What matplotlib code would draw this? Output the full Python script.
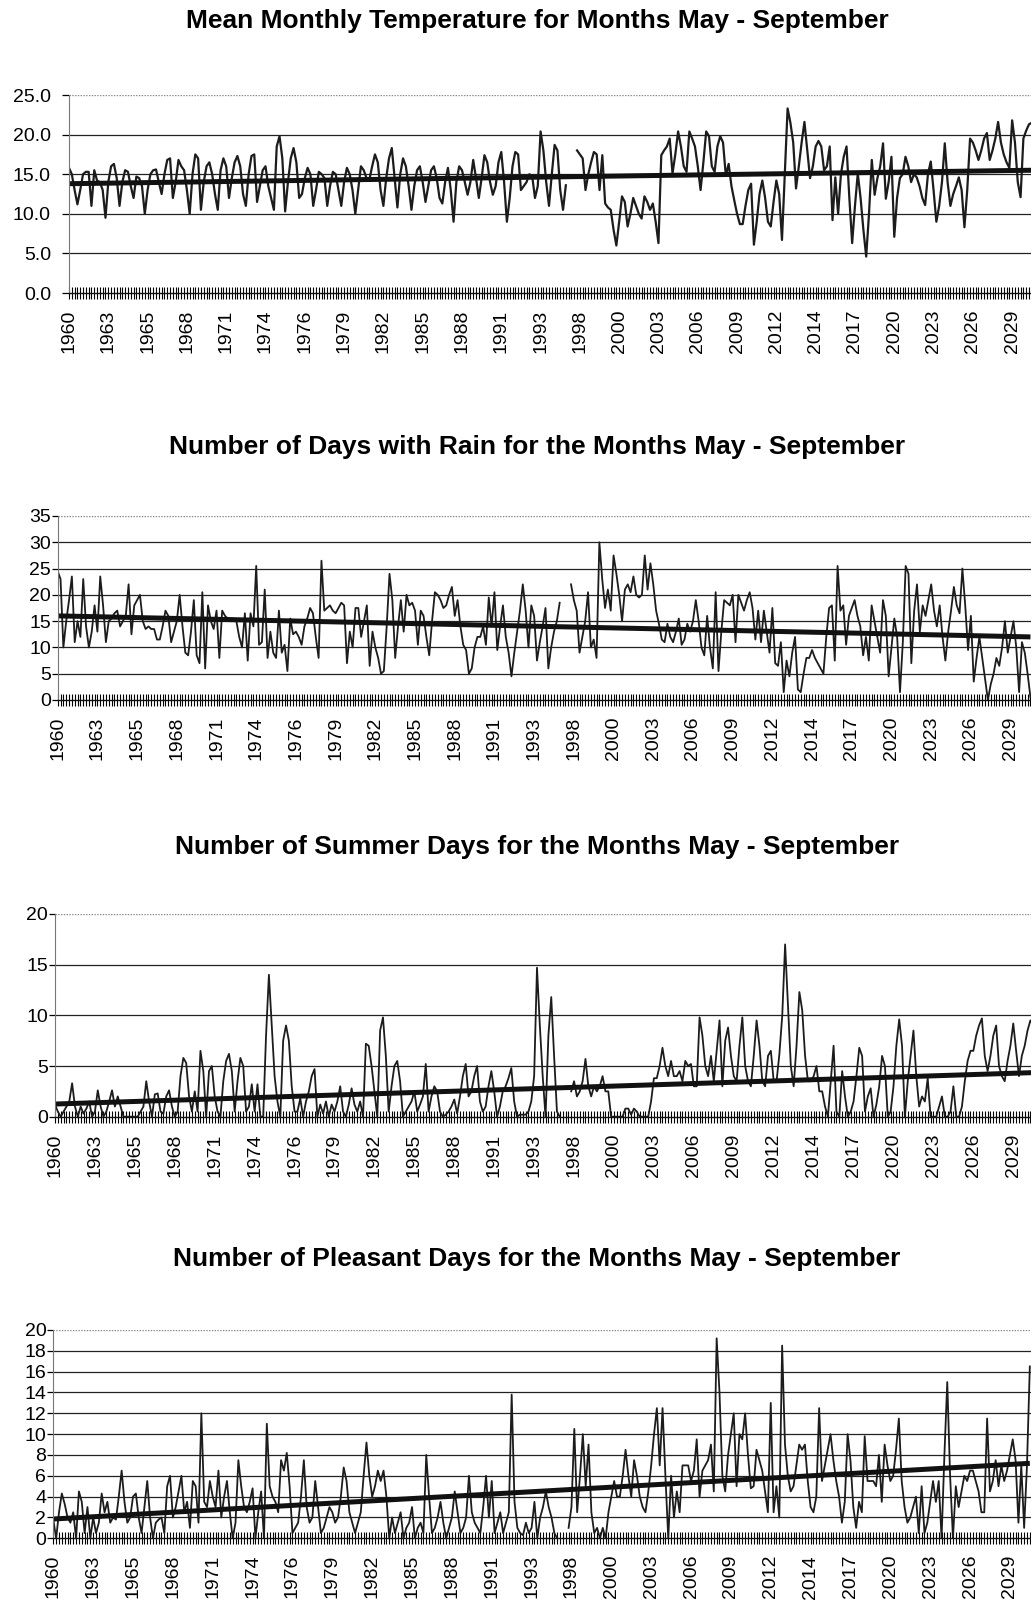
import matplotlib
matplotlib.use("Agg")
import matplotlib.pyplot as plt
import numpy as np

nan = float("nan")

YEAR_LABELS = ["1960", "1963", "1965", "1968", "1971", "1974", "1976", "1979",
               "1982", "1985", "1988", "1991", "1993", "1998", "2000", "2003",
               "2006", "2009", "2012", "2014", "2017", "2020", "2023", "2026",
               "2029"]
LABEL_STEP = 14

TITLES = [
    "Mean Monthly Temperature for Months May - September",
    "Number of Days with Rain for the Months May - September",
    "Number of Summer Days for the Months May - September",
    "Number of Pleasant Days for the Months May - September",
]

# linear trend: value at the first and at the last point
TEMP_TREND = (13.8, 15.5)
RAIN_TREND = (16.0, 12.0)
SUMMER_TREND = (1.25, 4.35)
PLEASANT_TREND = (1.85, 7.2)

# monthly values, May - September of each year (gap = missing years)
TEMP = [
    15.8, 15.0, 13.0, 11.2, 13.0, 15.0, 15.3, 15.3, 11.0, 15.5,
    14.2, 14.0, 13.0, 9.5, 14.0, 16.0, 16.3, 14.5, 11.0, 14.0,
    15.5, 15.3, 13.5, 12.0, 14.7, 14.5, 13.5, 10.0, 13.0, 15.0,
    15.5, 15.6, 14.0, 12.5, 15.0, 16.8, 17.0, 12.0, 14.0, 16.8,
    16.0, 15.5, 13.0, 10.0, 15.0, 17.5, 17.0, 10.5, 14.0, 16.0,
    16.5, 15.0, 12.5, 10.5, 15.5, 17.0, 16.0, 12.0, 14.5, 16.5,
    17.3, 16.0, 12.5, 11.0, 15.0, 17.3, 17.5, 11.5, 13.5, 15.5,
    16.0, 13.5, 12.0, 10.5, 18.5, 19.8, 17.0, 10.3, 14.0, 17.0,
    18.3, 16.5, 12.0, 12.5, 14.5, 15.8, 15.0, 11.0, 13.0, 15.3,
    15.0, 14.5, 11.0, 13.5, 15.3, 15.0, 13.0, 11.0, 14.0, 15.8,
    15.0, 13.0, 10.0, 13.0, 16.0, 15.5, 14.5, 14.3, 16.0, 17.5,
    16.5, 13.0, 11.0, 14.5, 17.0, 18.3, 14.5, 10.8, 15.0, 17.0,
    16.0, 13.5, 10.5, 13.5, 15.5, 16.0, 14.0, 11.5, 13.5, 15.5,
    16.0, 14.5, 12.0, 11.3, 14.0, 15.8, 13.0, 9.0, 14.0, 16.0,
    15.5, 14.0, 12.4, 14.0, 16.8, 14.5, 12.0, 14.5, 17.4, 16.5,
    14.0, 12.4, 13.5, 16.5, 17.8, 14.0, 9.0, 12.0, 16.0, 17.8,
    17.5, 13.0, 13.5, 14.0, 15.0, 14.8, 12.0, 13.5, 20.4, 18.0,
    14.0, 11.0, 15.0, 18.7, 18.0, 13.0, 10.5, 13.6, nan, nan,
    nan, 18.0, 17.5, 17.0, 13.0, 15.0, 16.5, 17.8, 17.5, 13.0,
    17.4, 11.3, 10.8, 10.5, 8.0, 6.0, 9.0, 12.2, 11.5, 8.4,
    10.0, 12.0, 11.0, 10.0, 9.4, 12.2, 11.5, 10.5, 11.3, 9.0,
    6.3, 17.4, 18.0, 18.5, 19.5, 15.1, 17.5, 20.4, 18.5, 16.0,
    15.3, 20.4, 19.5, 18.5, 16.0, 13.0, 16.5, 20.4, 19.8, 16.0,
    15.3, 18.5, 19.8, 19.0, 14.8, 16.3, 13.5, 11.7, 10.0, 8.7,
    8.7, 11.0, 13.0, 13.8, 6.1, 9.0, 12.5, 14.2, 12.0, 9.0,
    8.4, 11.5, 14.2, 12.5, 6.7, 15.0, 23.3, 21.5, 19.0, 13.2,
    16.0, 19.0, 21.6, 18.0, 14.5, 16.0, 18.5, 19.2, 18.5, 15.5,
    16.0, 18.5, 9.2, 14.6, 10.0, 15.0, 17.2, 18.5, 12.0, 6.3,
    11.0, 15.1, 12.0, 8.0, 4.6, 10.0, 16.8, 12.4, 14.5, 16.0,
    18.9, 11.9, 14.0, 17.2, 7.1, 12.0, 14.5, 15.0, 17.2, 16.0,
    14.0, 15.0, 14.6, 13.5, 12.0, 11.1, 15.0, 16.6, 13.0, 9.0,
    11.0, 14.0, 18.9, 14.0, 11.0, 12.5, 13.5, 14.6, 13.0, 8.3,
    13.0, 19.5, 19.0, 18.0, 16.8, 18.0, 19.5, 20.2, 16.8, 18.0,
    19.5, 21.6, 19.0, 17.5, 16.5, 15.8, 21.8, 19.0, 14.0, 12.1,
    19.5, 20.5, 21.3, 21.5,
]

RAIN = [
    24.5, 23, 10, 15, 19, 23.5, 11, 15, 12, 23,
    14, 10, 13, 18, 13, 23.5, 18, 11, 15, 15.5,
    16.5, 17, 14, 15, 16, 22, 12.5, 18, 19, 20,
    15, 13.5, 14, 13.5, 13.5, 11.5, 11.5, 14, 17, 16,
    11, 13, 15, 20, 14, 9, 8.5, 13, 19, 8.5,
    7, 20.5, 6, 18, 15, 13.5, 17, 8, 17, 16,
    15.5, 15.5, 15.5, 15, 12, 10, 16.5, 7.5, 16.5, 14,
    25.5, 10.5, 11, 21, 8, 13, 9, 8, 17, 9,
    10.5, 5.5, 15.5, 12.5, 13, 12, 10.5, 14, 15.5, 17.5,
    16.5, 12, 8, 26.5, 17, 17.5, 18, 17, 16.5, 17.5,
    18.5, 18, 7, 13, 10, 17.5, 17.5, 12, 15, 18,
    6.5, 13, 10, 8, 5, 5.5, 14, 24, 19, 8,
    14, 19, 13, 20, 18, 18.5, 17, 10.5, 17, 16,
    12, 8.5, 15, 20.5, 20, 19, 17.5, 18, 20, 21.5,
    16, 19, 14, 10.5, 9.5, 5, 6, 10, 12, 12,
    14, 10.5, 19.5, 14, 20.5, 9.5, 14, 18, 12, 9,
    4.5, 9, 13, 17, 22, 17, 10, 18, 16, 7.5,
    11, 14, 17.5, 6, 10, 13, 15, 18.5, nan, nan,
    nan, 22, 19, 17, 9, 12, 15, 20.5, 10, 11.5,
    8, 30, 23, 17.5, 21, 17, 27.5, 24, 20, 15,
    21, 22, 20.5, 23.5, 20, 19.5, 20, 27.5, 21, 26,
    22, 17, 14.5, 11.5, 11, 14.5, 12, 11, 13, 15.5,
    10.5, 11.5, 14.5, 13, 15, 19, 15, 10, 8.5, 16,
    10, 6, 20.5, 5.5, 13, 19, 18.5, 18, 20, 11,
    20, 18.5, 17, 19, 20.5, 17.5, 11.5, 17, 11, 17,
    13, 9, 17.5, 7, 6.5, 11, 1.5, 7.5, 4.5, 9,
    12, 2, 1.5, 5, 8, 8, 9.5, 8, 7, 6,
    5, 12, 17.5, 18, 7.5, 25.5, 17, 18, 10.5, 16,
    17.5, 19, 16, 14, 8.5, 12, 7.5, 18, 15, 12,
    9, 19, 16, 4.5, 10, 15.5, 12, 1.5, 11, 25.5,
    24, 7, 17, 22, 13, 18, 16, 19, 22, 17,
    14, 18, 12, 7.5, 13, 17, 21.5, 18, 16.5, 25,
    18, 9.5, 16, 3.5, 8, 12, 8, 4, 0, 3,
    5, 8, 6.5, 10, 15, 9, 12, 15, 10, 1.5,
    11, 9, 5, 0.5,
]

SUMMER = [
    1.2, 0.5, 0.0, 0.5, 1.0, 1.5, 3.3, 1.0, 0.0, 1.0,
    0.3, 0.8, 1.5, 0.0, 0.5, 2.6, 1.0, 0.0, 0.5, 1.5,
    2.6, 1.0, 2.0, 1.0, 0.0, 0.0, 0.0, 0.0, 0.0, 0.0,
    0.5, 1.0, 3.5, 1.5, 0.0, 2.2, 2.3, 0.5, 0.3, 2.0,
    2.6, 1.0, 0.0, 0.5, 4.0, 5.8, 5.3, 2.0, 0.5, 2.5,
    0.5, 6.5, 4.5, 0.0, 4.5, 5.0, 2.0, 0.5, 0.0, 3.5,
    5.5, 6.2, 4.5, 0.5, 3.5, 5.8, 5.0, 0.5, 1.0, 3.2,
    0.5, 3.2, 0.0, 0.0, 8.0, 14.0, 9.0, 4.0, 1.5, 0.0,
    7.5, 9.0, 7.5, 3.0, 0.5, 0.5, 1.8, 0.0, 1.5, 2.5,
    4.0, 4.7, 0.0, 1.2, 0.3, 1.5, 0.0, 1.2, 0.5, 1.5,
    3.0, 0.5, 0.0, 1.2, 2.8, 1.2, 0.5, 1.5, 0.0, 7.2,
    7.0, 5.0, 2.5, 0.0, 8.5, 9.8, 6.0, 0.5, 3.0, 5.0,
    5.5, 3.5, 0.0, 0.5, 1.0, 1.5, 2.5, 0.5, 1.2, 2.0,
    5.2, 0.5, 2.0, 3.0, 2.5, 0.5, 0.0, 0.2, 0.5, 1.0,
    1.7, 0.3, 2.0, 4.0, 5.2, 2.0, 2.5, 4.0, 5.0, 1.5,
    0.5, 1.0, 3.0, 4.5, 2.5, 0.0, 1.0, 2.5, 3.0, 3.8,
    4.8, 1.5, 0.0, 0.2, 0.2, 0.2, 0.5, 1.5, 4.0, 14.7,
    9.0, 4.0, 0.0, 8.0, 11.8, 6.0, 0.5, 0.0, nan, nan,
    nan, 2.5, 3.5, 2.0, 2.5, 3.5, 5.7, 3.0, 2.0, 3.0,
    2.5, 3.0, 4.0, 2.5, 2.5, 0.0, 0.0, 0.0, 0.0, 0.0,
    0.8, 0.8, 0.2, 0.8, 0.5, 0.0, 0.0, 0.0, 0.0, 1.5,
    3.8, 3.8, 5.0, 6.8, 5.0, 4.0, 5.5, 4.0, 4.0, 4.5,
    3.5, 5.5, 5.0, 5.2, 3.0, 3.0, 9.8, 8.0, 5.0, 4.0,
    6.0, 3.5, 6.5, 9.5, 3.0, 7.5, 8.8, 6.0, 4.0, 3.5,
    7.0, 9.8, 5.0, 3.5, 3.0, 6.0, 9.5, 7.0, 3.5, 3.0,
    6.0, 6.5, 3.5, 3.5, 6.2, 10.0, 17.0, 11.0, 5.0, 3.0,
    7.0, 12.3, 10.5, 6.0, 3.5, 3.5, 4.0, 5.0, 2.5, 2.5,
    1.0, 0.0, 3.5, 7.0, 0.5, 0.0, 4.5, 2.0, 0.0, 0.5,
    1.5, 4.0, 6.8, 6.0, 0.5, 2.0, 2.8, 0.0, 1.2, 3.0,
    6.0, 5.0, 0.0, 0.5, 3.0, 7.0, 9.6, 7.0, 0.0, 3.5,
    6.0, 8.5, 4.0, 1.0, 2.0, 1.5, 3.8, 0.0, 0.0, 0.0,
    1.0, 2.0, 0.0, 0.0, 0.5, 3.0, 0.0, 0.0, 1.0, 3.5,
    5.5, 6.5, 6.5, 8.0, 9.0, 9.7, 6.0, 4.5, 6.0, 8.0,
    9.0, 5.0, 4.0, 3.5, 5.5, 7.0, 9.2, 6.5, 4.0, 6.0,
    7.0, 8.5, 9.5, 9.0,
]

PLEASANT = [
    1.8, 0.0, 2.5, 4.3, 3.3, 2.0, 1.5, 2.5, 0.0, 4.5,
    3.5, 0.5, 3.0, 0.0, 2.0, 0.5, 1.5, 4.3, 2.5, 3.5,
    1.5, 2.0, 1.8, 4.0, 6.5, 3.5, 1.5, 2.0, 4.0, 4.3,
    2.0, 0.5, 3.0, 5.5, 2.0, 0.0, 1.5, 1.8, 2.0, 0.5,
    5.0, 6.0, 2.0, 3.0, 4.5, 6.0, 2.5, 3.5, 1.0, 5.5,
    5.0, 1.5, 12.0, 3.5, 3.0, 5.5, 4.0, 3.0, 6.5, 2.0,
    4.0, 5.5, 2.5, 0.0, 1.5, 7.5, 5.0, 3.0, 2.5, 3.5,
    4.8, 0.0, 2.5, 4.5, 0.0, 11.0, 5.0, 4.0, 3.5, 2.5,
    7.5, 6.5, 8.2, 5.0, 0.5, 1.0, 1.5, 4.0, 7.5, 3.0,
    1.5, 2.0, 5.5, 3.0, 0.5, 1.0, 2.0, 3.0, 2.5, 1.5,
    2.0, 4.0, 6.8, 5.5, 2.5, 1.5, 0.5, 1.5, 2.5, 6.0,
    9.2, 6.0, 4.0, 5.0, 6.5, 5.5, 6.5, 4.0, 0.0, 2.0,
    0.5, 1.5, 2.5, 0.0, 1.0, 1.5, 3.0, 0.0, 1.0, 1.5,
    0.5, 8.0, 4.0, 0.5, 1.0, 2.0, 3.5, 1.5, 0.0, 1.0,
    2.0, 4.5, 2.5, 0.5, 1.0, 2.0, 6.0, 2.5, 1.5, 1.0,
    0.5, 3.0, 6.0, 2.0, 5.5, 0.5, 1.5, 2.5, 0.5, 1.5,
    2.5, 13.8, 3.5, 1.0, 0.5, 0.3, 1.5, 0.5, 1.0, 3.5,
    0.0, 2.0, 3.0, 4.5, 3.0, 2.0, 0.5, 0.0, nan, nan,
    nan, 1.0, 3.0, 10.5, 2.5, 6.0, 10.0, 5.0, 9.0, 2.5,
    0.5, 1.0, 0.0, 1.0, 0.0, 2.5, 4.0, 5.5, 4.0, 4.0,
    6.0, 8.5, 6.0, 4.0, 7.5, 6.0, 4.0, 3.0, 2.5, 4.5,
    7.0, 10.0, 12.5, 7.0, 12.5, 6.0, 0.0, 6.0, 2.0, 4.5,
    2.5, 7.0, 7.0, 7.0, 5.5, 6.5, 9.5, 4.0, 6.5, 7.0,
    7.5, 9.0, 4.5, 19.2, 14.0, 6.0, 4.5, 8.0, 10.0, 12.0,
    5.0, 10.0, 9.5, 12.0, 8.0, 4.8, 5.0, 8.5, 7.5, 6.5,
    4.5, 2.5, 13.0, 2.5, 5.0, 2.0, 18.5, 9.0, 6.0, 4.5,
    5.0, 7.0, 9.0, 8.5, 9.0, 5.5, 3.0, 2.5, 4.0, 12.5,
    5.5, 7.0, 8.5, 10.0, 7.5, 5.5, 4.0, 1.5, 3.5, 10.0,
    7.5, 3.0, 1.0, 3.5, 2.5, 9.8, 5.5, 5.5, 5.5, 5.0,
    8.0, 3.5, 9.0, 7.0, 5.5, 6.0, 8.5, 11.5, 5.5, 3.0,
    1.5, 2.0, 3.0, 4.0, 0.5, 5.0, 0.5, 1.5, 3.5, 5.5,
    3.5, 5.5, 0.0, 8.0, 15.0, 6.0, 0.0, 5.0, 3.0, 4.5,
    6.0, 5.5, 6.5, 6.5, 5.5, 4.5, 2.5, 2.5, 11.5, 4.5,
    5.5, 7.5, 5.0, 7.0, 5.5, 6.5, 8.0, 9.5, 7.5, 1.5,
    7.0, 1.0, 7.0, 16.5,
]

W, H = 1031, 1604
N_CATS = 355


def px_rect(left, top, bottom, px_per_cat):
    width = N_CATS * px_per_cat
    return [left / W, 1 - bottom / H, width / W, (bottom - top) / H]


def draw_panel(fig, rect, values, trend, yticks, fmt, title, title_y,
               ypad, ylen, lw):
    ax = fig.add_axes(rect)
    y = np.array(values, dtype=float)
    x = np.arange(len(y))
    ax.plot(x, y, color="#1c1c1c", lw=lw, solid_joinstyle="round")

    # straight trend line through the two read end values
    ax.plot([0, len(y) - 1], list(trend), color="#111111", lw=3.6,
            solid_capstyle="butt")

    ax.set_xlim(0, N_CATS)
    ax.set_ylim(yticks[0], yticks[-1])
    ax.set_yticks(yticks)
    ax.set_yticklabels([fmt.format(v) for v in yticks], fontsize=14)
    for v in yticks[1:-1]:
        ax.axhline(v, color="#222222", lw=0.9, zorder=0)
    ax.axhline(yticks[-1], color="#888888", lw=1.0, ls=(0, (1, 1)), zorder=0)

    major = list(range(0, LABEL_STEP * len(YEAR_LABELS), LABEL_STEP))
    ax.set_xticks(major)
    ax.set_xticklabels(YEAR_LABELS, rotation=90, fontsize=14)
    ax.set_xticks(np.arange(0, N_CATS + 1), minor=True)
    ax.tick_params(axis="x", which="both", direction="inout", length=8,
                   width=0.8, pad=8)
    ax.tick_params(axis="y", direction="out", length=ylen, width=0.9,
                   pad=ypad)

    for side in ("top", "right"):
        ax.spines[side].set_visible(False)
    ax.spines["left"].set_color("#777777")
    ax.spines["left"].set_linestyle((0, (1, 1)))
    ax.spines["bottom"].set_color("#111111")
    ax.spines["bottom"].set_linewidth(1.0)

    fig.text(0.521, 1 - title_y / H, title, ha="center", va="center",
             fontsize=19, fontweight="bold")
    return ax


def main() -> None:
    plt.rcParams["font.family"] = ["Liberation Sans", "DejaVu Sans"]
    fig = plt.figure(figsize=(W / 100, H / 100), dpi=100)

    draw_panel(fig, px_rect(69, 95, 293, 2.807), TEMP, TEMP_TREND,
               [0, 5, 10, 15, 20, 25], "{:.1f}", TITLES[0], 21, 8, 5, 1.6)
    draw_panel(fig, px_rect(57.7, 516, 700, 2.836), RAIN, RAIN_TREND,
               [0, 5, 10, 15, 20, 25, 30, 35], "{:d}", TITLES[1], 447,
               1, 4, 1.3)
    draw_panel(fig, px_rect(55, 914, 1116.7, 2.852), SUMMER, SUMMER_TREND,
               [0, 5, 10, 15, 20], "{:d}", TITLES[2], 847, 1, 4, 1.3)
    draw_panel(fig, px_rect(53.3, 1330, 1538.3, 2.847), PLEASANT,
               PLEASANT_TREND, list(range(0, 21, 2)), "{:d}", TITLES[3],
               1259, 1, 4, 1.3)

    fig.savefig("out.png", dpi=100)


if __name__ == "__main__":
    main()
